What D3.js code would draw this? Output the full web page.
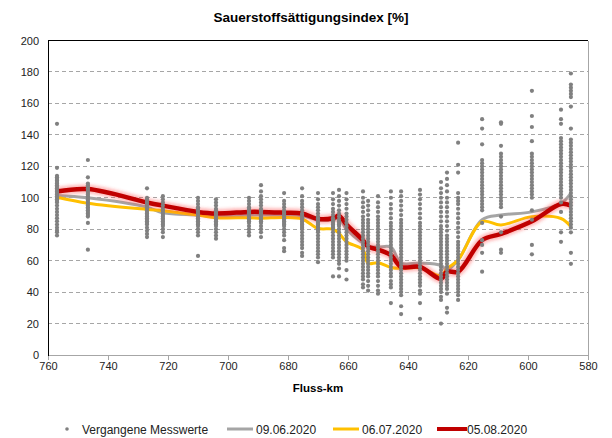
<!DOCTYPE html>
<html><head><meta charset="utf-8">
<script src="https://cdn.jsdelivr.net/npm/d3@7"></script>
<style>body{margin:0;background:#fff;} svg{display:block;font-family:"Liberation Sans",Arial,sans-serif;}</style>
</head><body>
<svg id="c" width="612" height="438"></svg>
<script>
const title = "Sauerstoffsättigungsindex [%]";
const xTitle = "Fluss-km";
const xTicks = [760,740,720,700,680,660,640,620,600,580];
const yTicks = [0,20,40,60,80,100,120,140,160,180,200];
const seriesNames = ["Vergangene Messwerte","09.06.2020","06.07.2020","05.08.2020"];

const stationsKm = [757,746.7,727,721.7,710,704,693,689,681.3,675.3,670,665,663,660.5,655,653.3,650,645.7,642.3,636,629,627,623.3,615.3,609,598.7,589,585.7];

const line0906 = [101.5,100,94,90.5,89,88,89,89,89,88.5,86,86,87,80,71,69,68.6,68.6,58.5,58.5,57,54,60.5,86,89,91,96.5,103];
const line0607 = [100.3,96.5,92.6,91.8,89,87.3,87.3,87,87.5,86.5,80.5,80,77.4,72,66.8,58.3,58.7,55.7,55.1,55.5,50.5,55,60.4,84.8,82.7,88,86.8,81.6];
const line0508 = [104,105.5,97,95,91,90,91,91,90.5,90,86.5,87,88.5,83,73,69,67,63.5,56,56,48.5,53,53,73,77,85,96,95];

const pastValues = [
 [147,119,114,113,112,111,110,109,108,107,106,105,104,103,102,101,100,99,98,97,95,93,91,89,87,85,83,81,79,78,76],
 [124,113,109,108,107,106,105,104,103,102,101,100,99,98,97,96,95,94,93,92,91,90,89,88,84,67],
 [106,100,99,98,97,96,95,94,93,92,91,90,89,88,87,86,85,84,83,81,79,77,75],
 [101,99,97,95,93,92,91,90,89,88,87,86,85,84,83,82,80,78,75],
 [100,98,96,94,93,92,91,90,89,88,87,86,85,84,83,82,80,78,76,63],
 [99,97,95,93,92,91,90,89,88,87,86,85,84,83,82,80,78,76,74],
 [100,98,96,94,93,92,91,90,89,88,87,86,85,84,82,80,78,76],
 [108,104,101,99,97,95,93,92,91,90,89,88,87,86,85,84,82,80,78,75],
 [103,98,96,94,92,91,90,89,88,87,86,85,84,83,82,80,78,76,73,68,66],
 [106,101,98,96,94,92,90,89,88,87,86,85,84,83,82,81,80,78,76,74,72,70,68,65,63],
 [103,99,96,94,92,90,88,87,86,85,84,83,82,81,80,79,78,76,74,72,70,68,66,64,62,59],
 [103,99,96,93,91,89,87,86,85,84,83,82,81,80,78,76,74,72,70,68,66,64,62,50],
 [105,101,98,95,92,90,88,86,85,84,83,82,80,78,76,74,72,70,68,66,64,62,60,58,55,50],
 [103,99,96,93,90,88,86,84,82,80,78,76,74,72,70,68,66,64,62,60,54,48],
 [104,100,97,94,91,88,86,84,82,80,78,76,74,72,70,68,66,64,62,60,58,56,54,52,50,48,45,43],
 [98,95,92,89,86,84,82,80,78,76,74,72,70,68,66,64,62,60,58,56,54,52,50,47,44,41],
 [101,97,94,91,88,86,84,82,80,78,76,74,72,70,68,66,64,62,60,58,56,54,52,50,47,44,41,39],
 [104,100,96,93,90,87,84,82,80,78,76,74,72,70,68,66,64,62,60,58,56,54,52,50,47,45,43,33],
 [104,101,98,95,92,89,86,84,82,80,78,76,74,72,70,68,66,64,62,60,58,56,54,52,50,48,46,44,42,40,38,31,26],
 [105,102,99,96,93,90,87,84,82,80,78,76,74,72,70,68,66,64,62,60,58,56,54,52,50,48,46,44,41,39,33,23],
 [110,106,103,100,97,94,91,88,85,82,80,78,76,74,72,70,68,66,64,62,60,58,56,54,52,50,48,46,44,42,40,37,35,20],
 [116,112,108,104,100,97,94,91,88,85,82,79,76,74,72,70,68,66,64,62,60,58,56,54,52,50,48,46,44,42,39,30,27],
 [135,121,116,103,100,98,96,93,90,87,84,81,78,75,72,70,68,66,64,62,60,58,56,54,52,50,48,46,44,42,40,38,35],
 [150,144,134,124,122,120,118,116,114,112,110,108,106,104,102,100,98,96,94,92,84,73,70,65,53],
 [148,147,133,128,126,124,122,120,118,116,114,112,110,108,106,104,102,100,98,96,94,88,78,67,65],
 [168,152,145,136,128,126,124,122,120,118,116,114,112,110,108,106,104,102,100,92,86,70,64],
 [156,150,147,138,136,134,132,130,128,126,124,122,120,118,116,114,112,110,108,106,104,102,100,97,91,78,72],
 [179,172,170,168,166,164,158,144,137,135,133,131,129,127,125,123,121,119,117,115,113,111,109,107,105,103,101,99,97,95,93,91,89,87,85,83,81,78,65,58]
];

const svg = d3.select("#c");
const x = d3.scaleLinear().domain([760,580]).range([48,588]);
const y = d3.scaleLinear().domain([0,200]).range([355,40.5]);

const defs = svg.append("defs");
defs.append("filter").attr("id","glow").attr("x","-10%").attr("y","-50%").attr("width","120%").attr("height","200%")
  .append("feGaussianBlur").attr("stdDeviation",1.6);

svg.append("text").attr("x",311).attr("y",22).attr("text-anchor","middle")
  .attr("font-size",13.5).attr("font-weight","bold").attr("fill","#000").text(title);

svg.append("g").selectAll("line").data(yTicks.filter(d=>d>0 && d<200)).join("line")
  .attr("x1",x(760)).attr("x2",x(580)).attr("y1",d=>y(d)).attr("y2",d=>y(d))
  .attr("stroke","#a6a6a6").attr("stroke-width",1).attr("stroke-dasharray","4,3").attr("shape-rendering","crispEdges");

svg.append("line").attr("x1",x(580)).attr("x2",x(580)).attr("y1",y(200)).attr("y2",y(0))
  .attr("stroke","#a6a6a6").attr("shape-rendering","crispEdges");
svg.append("line").attr("x1",x(760)).attr("x2",x(580)).attr("y1",y(200)).attr("y2",y(200))
  .attr("stroke","#000").attr("shape-rendering","crispEdges");

const xAxis = svg.append("g").attr("transform",`translate(0,${y(0)})`)
  .call(d3.axisBottom(x).tickValues(xTicks).tickSize(5).tickSizeOuter(0).tickFormat(d3.format("d")));
xAxis.select(".domain").attr("stroke","#a6a6a6").attr("shape-rendering","crispEdges");
xAxis.selectAll(".tick line").attr("stroke","#a6a6a6").attr("shape-rendering","crispEdges");
xAxis.selectAll("text").attr("font-size",11).attr("fill","#222").attr("font-family","Liberation Sans, Arial, sans-serif").attr("dy","1.0em").attr("y",4);

const yAxis = svg.append("g").attr("transform",`translate(${x(760)},0)`)
  .call(d3.axisLeft(y).tickValues(yTicks).tickSize(0).tickPadding(9).tickFormat(d3.format("d")));
yAxis.select(".domain").attr("stroke","#000").attr("shape-rendering","crispEdges");
yAxis.selectAll("text").attr("font-size",11).attr("fill","#222").attr("font-family","Liberation Sans, Arial, sans-serif");

svg.append("text").attr("x",318).attr("y",392).attr("text-anchor","middle")
  .attr("font-size",11.5).attr("font-weight","bold").attr("fill","#000").text(xTitle);

const mk = vals => d3.line().x((d,i)=>x(stationsKm[i])).y(d=>y(d)).curve(d3.curveCatmullRom.alpha(0.5))(vals);
svg.append("path").attr("d",mk(line0906)).attr("fill","none").attr("stroke","#a5a5a5").attr("stroke-width",3);
svg.append("path").attr("d",mk(line0607)).attr("fill","none").attr("stroke","#ffc000").attr("stroke-width",3);
svg.append("path").attr("d",mk(line0508)).attr("fill","none").attr("stroke","#ff3b3b").attr("stroke-opacity",0.35)
  .attr("stroke-width",9).attr("filter","url(#glow)").attr("stroke-linejoin","round");
svg.append("path").attr("d",mk(line0508)).attr("fill","none").attr("stroke","#c00000").attr("stroke-width",4.5).attr("stroke-linejoin","round");

const pts = [];
stationsKm.forEach((k,i)=>pastValues[i].forEach(v=>pts.push([k,v])));
svg.append("g").selectAll("circle").data(pts).join("circle")
  .attr("cx",d=>x(d[0])).attr("cy",d=>y(d[1])).attr("r",2.1).attr("fill","#808080");

const lg = svg.append("g").attr("font-size",12).attr("fill","#222");
const ly = 430;
lg.append("circle").attr("cx",67).attr("cy",ly-1).attr("r",1.8).attr("fill","#808080");
lg.append("text").attr("x",82).attr("y",ly+3.5).text(seriesNames[0]);
lg.append("line").attr("x1",227).attr("x2",253).attr("y1",ly-1).attr("y2",ly-1).attr("stroke","#a5a5a5").attr("stroke-width",3);
lg.append("text").attr("x",256).attr("y",ly+3.5).text(seriesNames[1]);
lg.append("line").attr("x1",333).attr("x2",359).attr("y1",ly-1).attr("y2",ly-1).attr("stroke","#ffc000").attr("stroke-width",3);
lg.append("text").attr("x",362).attr("y",ly+3.5).text(seriesNames[2]);
lg.append("line").attr("x1",437).attr("x2",467).attr("y1",ly-1).attr("y2",ly-1).attr("stroke","#ff3b3b").attr("stroke-opacity",0.35).attr("stroke-width",8).attr("filter","url(#glow)");
lg.append("line").attr("x1",437).attr("x2",467).attr("y1",ly-1).attr("y2",ly-1).attr("stroke","#c00000").attr("stroke-width",4);
lg.append("text").attr("x",467).attr("y",ly+3.5).text(seriesNames[3]);
</script>
</body></html>
